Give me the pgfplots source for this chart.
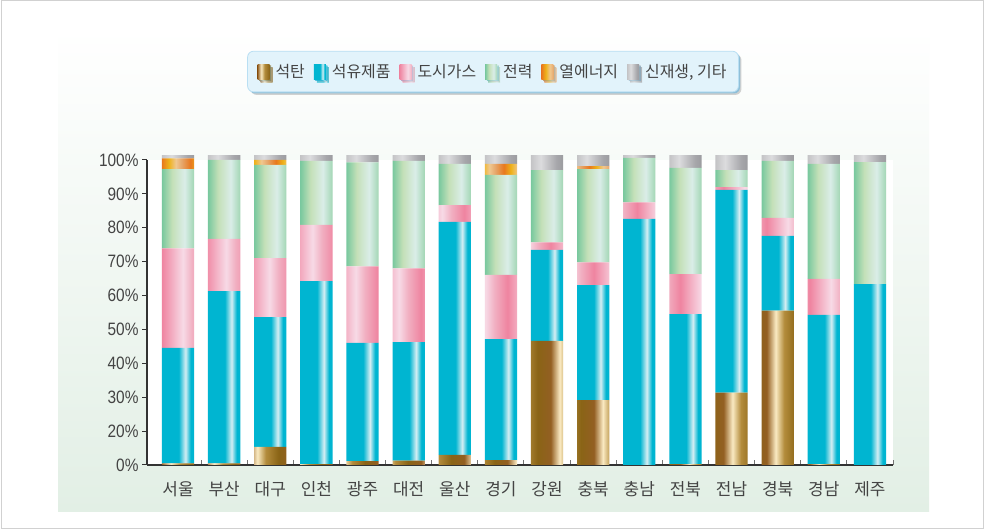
\documentclass[border=0pt]{standalone}
\usepackage{fontspec}
\setmainfont{Noto Sans CJK KR}
\newfontfamily\numfont[FakeStretch=0.86]{Liberation Sans}
\usepackage{pgfplots}
\usepackage{pgfplotstable}
\pgfplotsset{compat=1.18}
\usetikzlibrary{shadows}

\definecolor{coalA}{HTML}{935F22}
\definecolor{coalB}{HTML}{FAEAC2}
\definecolor{coalC}{HTML}{B38C3C}
\definecolor{coalD}{HTML}{8A6416}
\definecolor{oilA}{HTML}{00B5D1}
\definecolor{oilB}{HTML}{D5EEF3}
\definecolor{gasA}{HTML}{EF84A0}
\definecolor{gasB}{HTML}{F7DAE6}
\definecolor{gasC}{HTML}{F1B0C2}
\definecolor{elecA}{HTML}{78C89E}
\definecolor{elecB}{HTML}{C4E0B8}
\definecolor{elecC}{HTML}{DAEDE8}
\definecolor{elecD}{HTML}{A2D6B4}
\definecolor{heatA}{HTML}{E8781E}
\definecolor{heatB}{HTML}{EEB21A}
\definecolor{heatC}{HTML}{F0C890}
\definecolor{heatD}{HTML}{E6A66A}
\definecolor{othA}{HTML}{C4C4C6}
\definecolor{othB}{HTML}{DCDCDE}
\definecolor{othC}{HTML}{A6A6AA}
\definecolor{othD}{HTML}{9C9CA0}
\definecolor{txt}{HTML}{444444}
\definecolor{axisc}{HTML}{333333}
\definecolor{panelbot}{HTML}{E2EFE5}
\definecolor{lgfill}{HTML}{E2F3FB}
\definecolor{lgdraw}{HTML}{4FAEE0}

% one horizontal shading that repeats its stops once per bar
% #1 name, #2 last bar index, #3 bar width / spacing, #4 spacing in bp,
% #5 colour before, #6 colour after, #7 stops f/colour
\newcommand\mkshade[7]{%
  \gdef\shspec{}%
  \foreach \ii in {0,...,#2}{%
    \foreach \ff/\cc in {#7}{%
      \pgfmathsetmacro\pos{25+(\ii+\ff*#3)*#4}%
      \xdef\shspec{\shspec; color(\pos bp)=(\cc)}%
    }%
  }%
  \edef\tmp{\noexpand\pgfdeclarehorizontalshading{#1}{100bp}{color(0bp)=(#5)\shspec; color(100bp)=(#6)}}%
  \tmp}

\def\coalstops{0/coalA,0.3/coalB,0.58/coalC,1/coalD}
\def\oilstops{0/oilA,0.52/oilA,0.73/oilB,0.89/oilA,1/oilA}
\def\gasstops{0/gasA,0.7/gasB,1/gasC}
\def\elecstops{0/elecA,0.32/elecB,0.7/elecC,1/elecD}
\def\heatstops{0/heatA,0.35/heatB,0.7/heatC,1/heatD}
\def\othstops{0/othA,0.3/othB,0.8/othC,1/othD}

% S: 16 bars (spacing 50/15.7 bp), L: one legend square
\newcommand\both[4]{%
  \edef\tmpa{\noexpand\mkshade{#1S}{15}{0.7}{3.184713}{#2}{#3}{#4}}\tmpa
  \edef\tmpa{\noexpand\mkshade{#1L}{0}{1}{50}{#2}{#3}{#4}}\tmpa}
\both{coal}{coalA}{coalD}{\coalstops}
\both{oil}{oilA}{oilA}{\oilstops}
\both{gas}{gasA}{gasC}{\gasstops}
\both{elec}{elecA}{elecD}{\elecstops}
\both{heat}{heatA}{heatD}{\heatstops}
\both{oth}{othA}{othD}{\othstops}

\pgfplotstableread{
x coal oil gas elec heat other
0  0.5  37.9 32.6 26.0 3.5 1.1
1  0.5  56.5 17.1 25.9 0.0 1.6
2  5.9  42.6 19.3 30.6 1.6 1.6
3  0.3  60.0 18.4 21.0 0.0 1.9
4  1.3  38.7 25.1 34.1 0.0 2.4
5  1.4  38.9 24.2 35.2 0.0 1.9
6  3.3  76.4  5.5 13.5 0.0 2.9
7  1.6  39.7 21.0 32.8 3.6 2.9
8  40.7 29.8  2.5 23.7 0.0 4.9
9  21.3 37.7  7.4 30.6 1.0 3.6
10 0.0  80.7  5.4 14.6 0.0 0.9
11 0.3  49.2 13.1 34.8 0.0 4.2
12 23.7 66.5  0.9  5.6 0.0 4.9
13 50.6 24.5  5.9 18.7 0.0 1.9
14 0.3  48.9 11.8 37.7 0.0 2.9
15 0.0  59.3  0.0 40.0 0.0 2.3
}\shares

\begin{document}
\begin{tikzpicture}[x=1bp,y=1bp]
\useasboundingbox (0,0) rectangle (984,529);
\fill[white] (0,0) rectangle (984,529);
\shade[top color=white, bottom color=panelbot] (58,17) rectangle (929,501);
\draw[black!18, line width=1bp] (1,0.5) rectangle (983,528.5);
\begin{axis}[
  at={(147bp,64bp)}, anchor=south west,
  scale only axis, width=746bp, height=305bp,
  xmin=-0.672, xmax=15.5, ymin=0, ymax=100,
  clip=false,
  ybar stacked, bar width=0.7,
  axis background/.style={fill=white},
  axis x line*=bottom, axis y line*=left,
  axis line style={axisc, line width=1.2bp, -},
  xtick={0,...,15},
  xticklabels={서울,부산,대구,인천,광주,대전,울산,경기,강원,충북,충남,전북,전남,경북,경남,제주},
  major x tick style={draw=none},
  minor xtick={0.5,1.5,...,15.5},
  minor x tick style={black!55, line width=1bp},
  minor tick length=5bp,
  xtick align=inside,
  ytick={0,11.1111,22.2222,33.3333,44.4444,55.5556,66.6667,77.7778,88.8889,100},
  yticklabels={0\%,20\%,30\%,40\%,50\%,60\%,70\%,80\%,90\%,100\%},
  ytick align=outside,
  major tick length=5bp,
  y tick style={axisc, line width=1bp},
  xticklabel style={font=\fontsize{17}{20}\selectfont, text=txt, yshift=-13bp},
  yticklabel style={font=\numfont\fontsize{18}{20}\selectfont, text=txt},
  legend columns=6,
  legend style={at={(0.4638,1.290)}, anchor=center,
    fill=lgfill, draw=lgdraw!40, line width=0.8bp, rounded corners=6bp,
    drop shadow={shadow xshift=3bp, shadow yshift=-3bp, fill=black!35},
    drop shadow={shadow xshift=1.6bp, shadow yshift=-1.6bp, fill=lgdraw},
    font=\fontsize{16}{19}\selectfont, text=txt,
    inner xsep=10bp, inner ysep=11bp,
    /tikz/every odd column/.append style={column sep=4bp},
    /tikz/every even column/.append style={column sep=7bp}},
  lg/.style={legend image code/.code={\path[shade,shading=#1,sharp corners] (0bp,-7.5bp) rectangle (12bp,7.5bp);}},
]
\addplot[draw=none, shade, shading=coalS, lg=coalL] table[x=x,y=coal]{\shares};
\addplot[draw=none, shade, shading=oilS, lg=oilL] table[x=x,y=oil]{\shares};
\addplot[draw=none, shade, shading=gasS, lg=gasL] table[x=x,y=gas]{\shares};
\addplot[draw=none, shade, shading=elecS, lg=elecL] table[x=x,y=elec]{\shares};
\addplot[draw=none, shade, shading=heatS, lg=heatL] table[x=x,y=heat]{\shares};
\addplot[draw=none, shade, shading=othS, lg=othL] table[x=x,y=other]{\shares};
\legend{석탄,석유제품,도시가스,전력,열에너지,{신재생, 기타}}
\end{axis}
\end{tikzpicture}
\end{document}
